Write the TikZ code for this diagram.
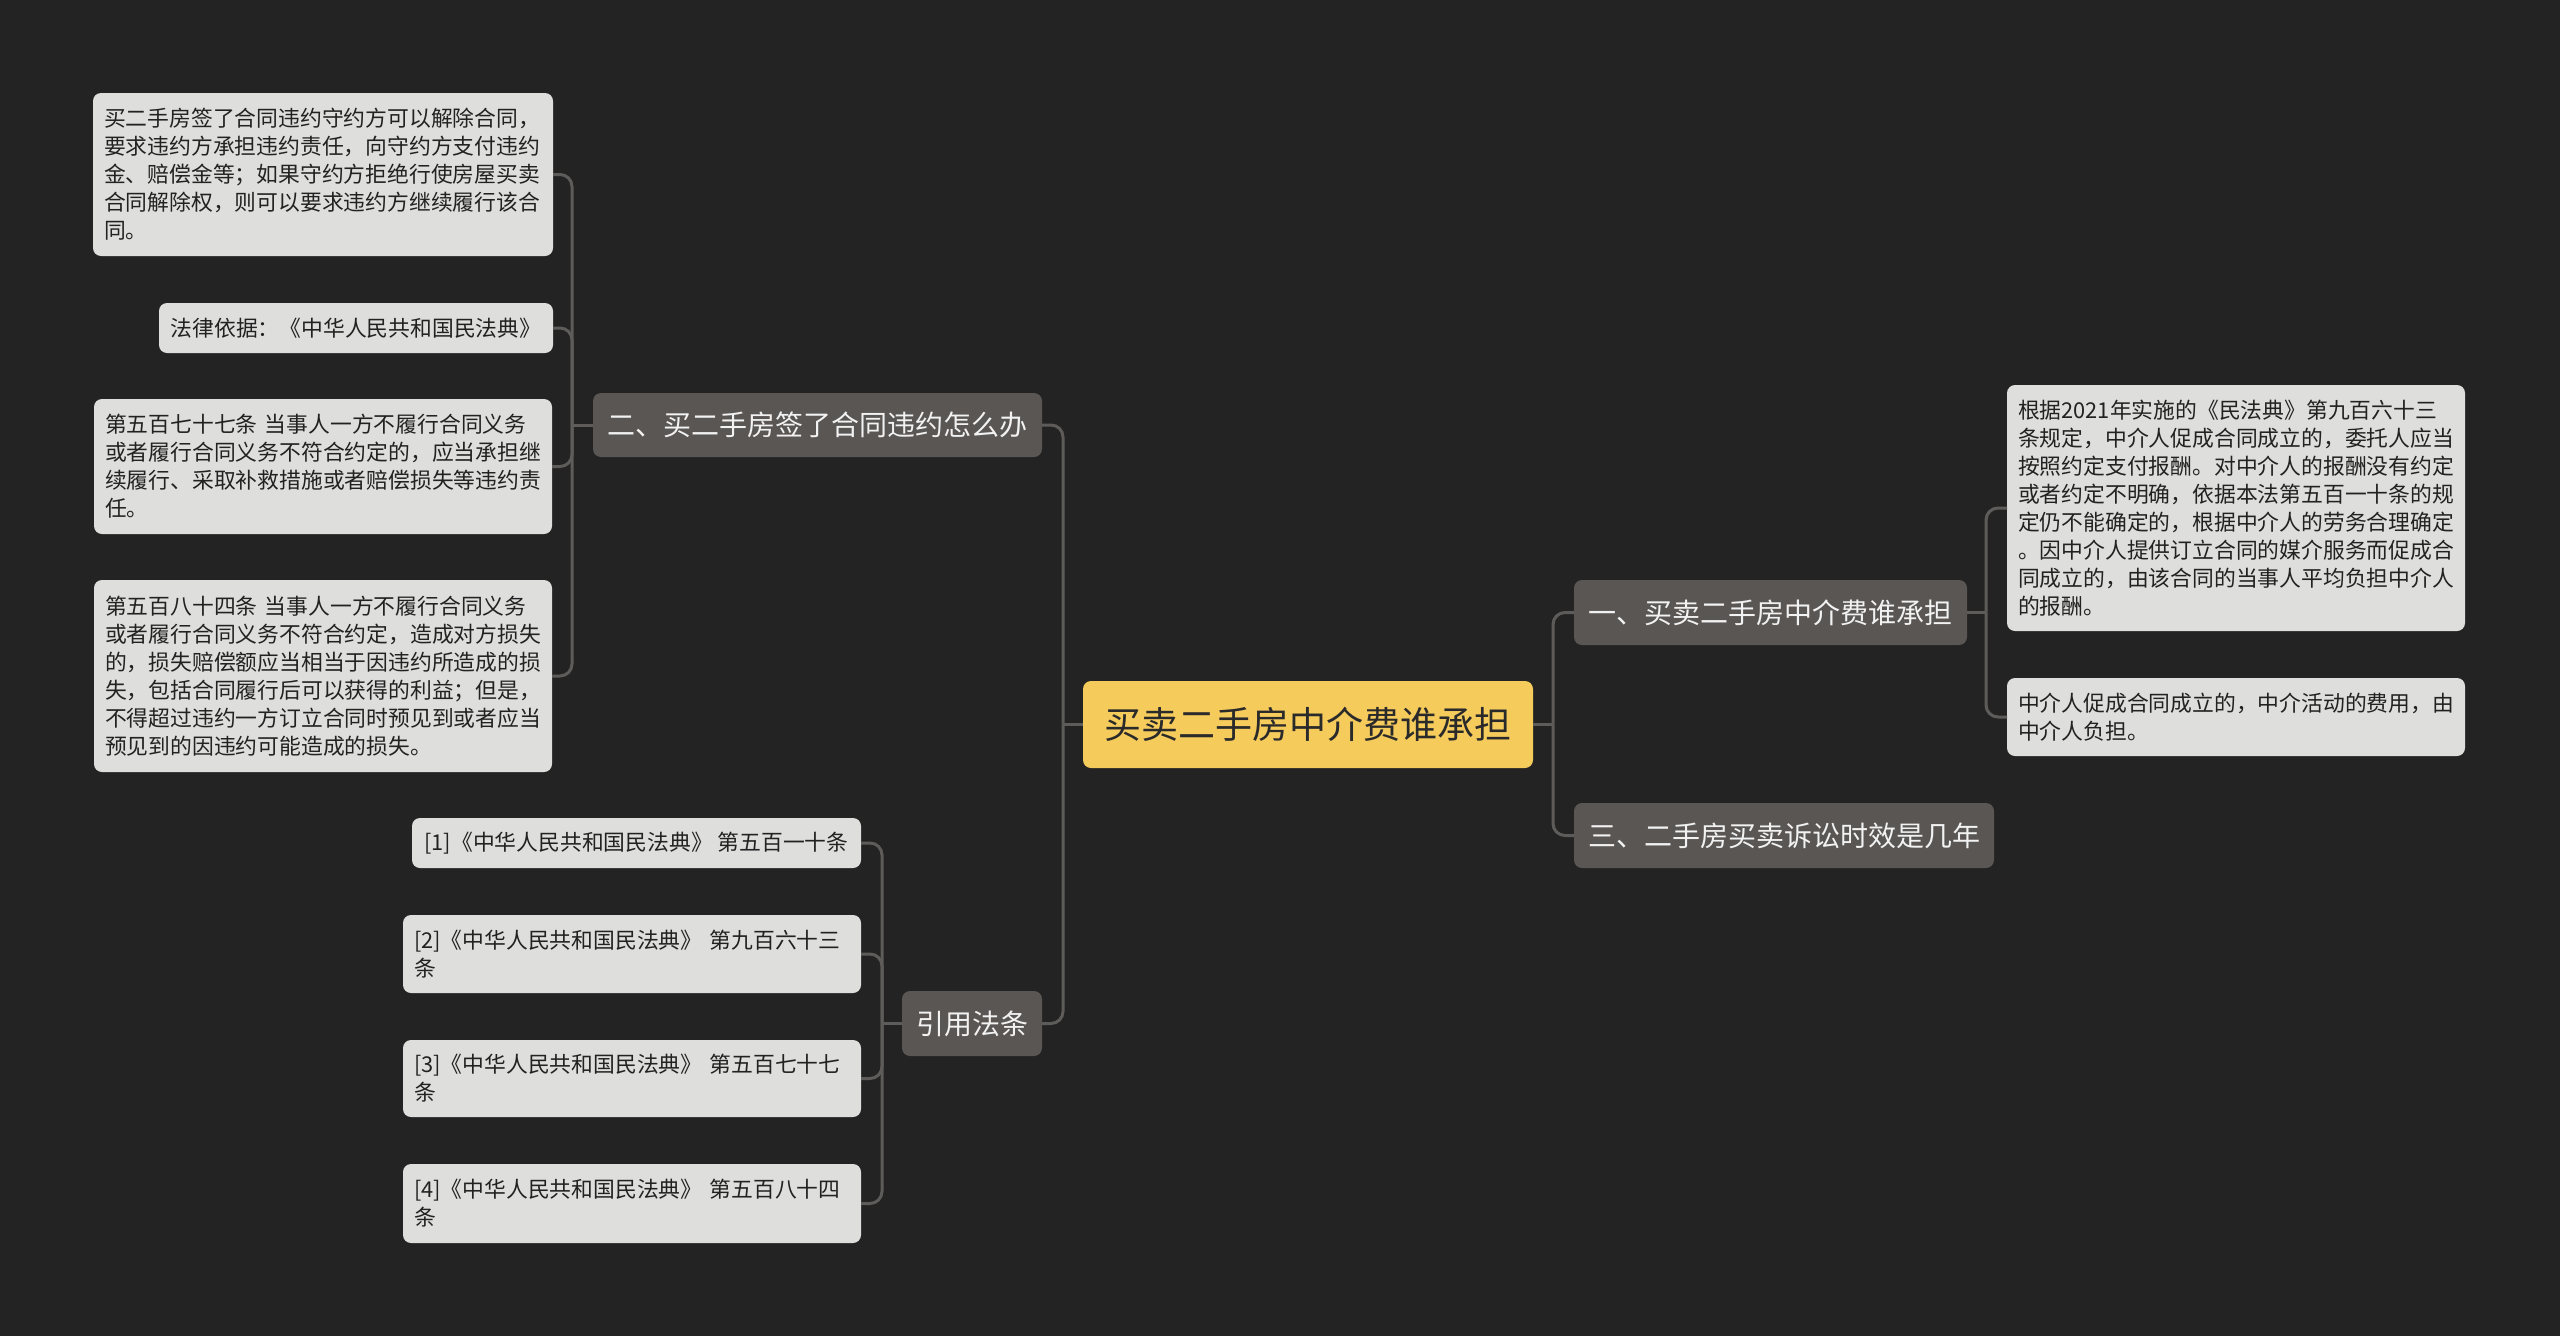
\documentclass[tikz,border=0pt]{standalone}
\usepackage{fontspec}
\setmainfont{Noto Sans CJK SC}
\definecolor{bgc}{HTML}{232323}
\definecolor{leafc}{HTML}{DEDEDD}
\definecolor{leaftxt}{HTML}{222222}
\definecolor{branchc}{HTML}{5A5654}
\definecolor{branchtxt}{HTML}{F2F2F2}
\definecolor{centerc}{HTML}{F5CB5C}
\definecolor{centertxt}{HTML}{2A2A2A}
\definecolor{linec}{HTML}{5E5C5A}
\begin{document}
\begin{tikzpicture}[x=1pt,y=-1pt,
  box/.style={rounded corners=8pt, inner sep=0pt, outer sep=0pt},
  leaf/.style={box, fill=leafc, text=leaftxt, font=\fontsize{21.8}{28}\selectfont, align=left, inner xsep=11pt, inner ysep=0pt},
  leafone/.style={box, fill=leafc, text=leaftxt, font=\fontsize{21.8}{28}\selectfont, align=center},
  branch/.style={box, fill=branchc, text=branchtxt, font=\fontsize{28}{34}\selectfont, align=center},
  root/.style={box, fill=centerc, text=centertxt, font=\fontsize{37}{44}\selectfont, align=center},
  conn/.style={draw=linec, line width=3pt, rounded corners=12pt}]
\fill[bgc] (0,0) rectangle (2560,1336);
\useasboundingbox (0,0) rectangle (2560,1336);

% central node
\node[root, minimum width=450pt, minimum height=87pt] (center) at (1308,724.5) {买卖二手房中介费谁承担};

% branches
\node[branch, minimum width=393pt, minimum height=65pt] (b1) at (1770.5,612.5) {一、买卖二手房中介费谁承担};
\node[branch, minimum width=420pt, minimum height=65pt] (b3) at (1784,835.5) {三、二手房买卖诉讼时效是几年};
\node[branch, minimum width=449pt, minimum height=64pt] (b2) at (817.5,425) {二、买二手房签了合同违约怎么办};
\node[branch, minimum width=140pt, minimum height=65pt] (cite) at (972,1023.5) {引用法条};

% right leaves
\node[leaf, text width=436pt, minimum height=246pt] (r1) at (2236,508) {根据2021年实施的《民法典》第九百六十三\\条规定，中介人促成合同成立的，委托人应当\\按照约定支付报酬。对中介人的报酬没有约定\\或者约定不明确，依据本法第五百一十条的规\\定仍不能确定的，根据中介人的劳务合理确定\\。因中介人提供订立合同的媒介服务而促成合\\同成立的，由该合同的当事人平均负担中介人\\的报酬。};
\node[leaf, text width=436pt, minimum height=78pt] (r2) at (2236,717) {中介人促成合同成立的，中介活动的费用，由\\中介人负担。};

% left leaves of branch 2
\node[leaf, text width=438pt, minimum height=163pt] (l1) at (323,174.5) {买二手房签了合同违约守约方可以解除合同，\\要求违约方承担违约责任，向守约方支付违约\\金、赔偿金等；如果守约方拒绝行使房屋买卖\\合同解除权，则可以要求违约方继续履行该合\\同。};
\node[leafone, minimum width=394pt, minimum height=50pt] (l2) at (356,328) {法律依据：《中华人民共和国民法典》};
\node[leaf, text width=436pt, minimum height=135pt] (l3) at (323,466.5) {第五百七十七条 当事人一方不履行合同义务\\或者履行合同义务不符合约定的，应当承担继\\续履行、采取补救措施或者赔偿损失等违约责\\任。};
\node[leaf, text width=436pt, minimum height=192pt] (l4) at (323,676) {第五百八十四条 当事人一方不履行合同义务\\或者履行合同义务不符合约定，造成对方损失\\的，损失赔偿额应当相当于因违约所造成的损\\失，包括合同履行后可以获得的利益；但是，\\不得超过违约一方订立合同时预见到或者应当\\预见到的因违约可能造成的损失。};

% citations
\node[leafone, minimum width=449pt, minimum height=50pt] (c1) at (636.5,843) {[1]《中华人民共和国民法典》 第五百一十条};
\node[leaf, text width=436pt, minimum height=78pt] (c2) at (632,954) {[2]《中华人民共和国民法典》 第九百六十三\\条};
\node[leaf, text width=436pt, minimum height=77pt] (c3) at (632,1078.5) {[3]《中华人民共和国民法典》 第五百七十七\\条};
\node[leaf, text width=436pt, minimum height=79pt] (c4) at (632,1203.5) {[4]《中华人民共和国民法典》 第五百八十四\\条};

% junction coordinates
\coordinate (jl) at ([xshift=-20pt]center.west);
\coordinate (jr) at ([xshift=20pt]center.east);
\coordinate (j1) at ([xshift=19pt]b1.east);
\coordinate (j2) at ([xshift=-21pt]b2.west);
\coordinate (jc) at ([xshift=-20pt]cite.west);

% connectors
\draw[conn] (center.west) -- (jl);
\draw[conn] (b2.east) -| (jl);
\draw[conn] (cite.east) -| (jl);
\draw[conn] (center.east) -- (jr);
\draw[conn] (b1.west) -| (jr);
\draw[conn] (b3.west) -| (jr);

\draw[conn] (b1.east) -- (j1);
\draw[conn] (r1.west) -| (j1);
\draw[conn] (r2.west) -| (j1);

\draw[conn] (b2.west) -- (j2);
\draw[conn] (l1.east) -| (j2);
\draw[conn] (l2.east) -| (j2);
\draw[conn] (l3.east) -| (j2);
\draw[conn] (l4.east) -| (j2);

\draw[conn] (cite.west) -- (jc);
\draw[conn] (c1.east) -| (jc);
\draw[conn] (c2.east) -| (jc);
\draw[conn] (c3.east) -| (jc);
\draw[conn] (c4.east) -| (jc);
\end{tikzpicture}
\end{document}
